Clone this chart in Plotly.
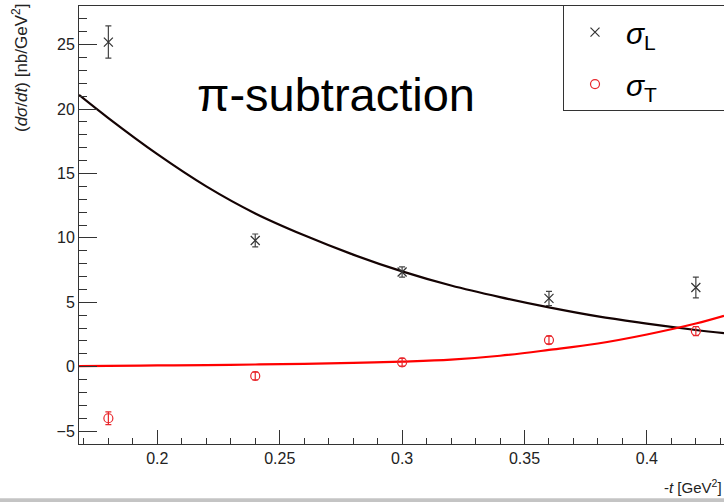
import plotly.graph_objects as go

# ---- data ----
t_points = [0.18, 0.24, 0.30, 0.36, 0.42]
sigL = [25.2, 9.8, 7.35, 5.3, 6.15]
sigL_err = [1.25, 0.5, 0.4, 0.55, 0.8]
sigT = [-4.0, -0.72, 0.34, 2.07, 2.77]
sigT_err = [0.5, 0.3, 0.3, 0.3, 0.35]

fit_t = [0.168, 0.18, 0.20, 0.22, 0.24, 0.26, 0.28, 0.30, 0.32, 0.34, 0.36, 0.38, 0.40, 0.42, 0.4315]
sigL_fit = [21.1, 19.3, 16.5, 14.0, 11.9, 10.2, 8.7, 7.4, 6.3, 5.4, 4.6, 3.9, 3.35, 2.85, 2.6]
sigT_fit = [0.05, 0.07, 0.1, 0.13, 0.17, 0.22, 0.3, 0.4, 0.55, 0.85, 1.3, 1.8, 2.5, 3.35, 3.95]

x_ticks = [0.2, 0.25, 0.3, 0.35, 0.4]
x_ticklabels = ["0.2", "0.25", "0.3", "0.35", "0.4"]
y_ticks = [-5, 0, 5, 10, 15, 20, 25]
y_ticklabels = ["\u22125", "0", "5", "10", "15", "20", "25"]

FONT = "Liberation Sans, Arial, Helvetica, sans-serif"
AXC = "#333333"
PAD = "&nbsp;" * 10

fig = go.Figure()

fig.add_trace(go.Scatter(
    x=fit_t, y=sigL_fit, mode="lines", line=dict(color="#140303", width=2.2, shape="spline"),
    showlegend=False, hoverinfo="skip"))
fig.add_trace(go.Scatter(
    x=fit_t, y=sigT_fit, mode="lines", line=dict(color="#ff0000", width=2.2, shape="spline"),
    showlegend=False, hoverinfo="skip"))

fig.add_trace(go.Scatter(
    x=t_points, y=sigL, mode="markers", name="<i>σ</i><sub>L</sub>" + PAD,
    marker=dict(symbol="x-thin-open", size=9, line=dict(color="#333333", width=1.2), color="#333333"),
    error_y=dict(type="data", array=sigL_err, width=3, thickness=1.2, color="#444444"),
    legendgroup="L"))
fig.add_trace(go.Scatter(
    x=t_points, y=sigT, mode="markers", name="<i>σ</i><sub>T</sub>" + PAD,
    marker=dict(symbol="circle-open", size=9, line=dict(color="#e8262b", width=1.2), color="#e8262b"),
    error_y=dict(type="data", array=sigT_err, width=3, thickness=1.2, color="#e8262b"),
    legendgroup="T"))

fig.update_layout(
    width=724, height=502,
    margin=dict(l=79, r=0, t=6, b=58, autoexpand=False),
    paper_bgcolor="white", plot_bgcolor="white",
    font=dict(family=FONT, color="#222222", size=16),
    showlegend=True,
    legend=dict(x=0.7504, y=1.002, xanchor="left", yanchor="top",
                bordercolor="#333333", borderwidth=1, bgcolor="white",
                font=dict(size=30, family=FONT, color="black"),
                tracegroupgap=10, itemwidth=52,
                traceorder="grouped"),
    xaxis=dict(range=[0.168, 0.4315], showgrid=False, zeroline=False,
               showline=True, linecolor=AXC, linewidth=1, mirror=True,
               ticks="inside", ticklen=14, tickcolor=AXC, tickwidth=1,
               tickvals=x_ticks, ticktext=x_ticklabels,
               tickfont=dict(size=16, color="#222222"),
               minor=dict(ticks="inside", ticklen=6, dtick=0.01, tick0=0.0, tickcolor=AXC, showgrid=False)),
    yaxis=dict(range=[-6, 28], showgrid=False, zeroline=False,
               showline=True, linecolor=AXC, linewidth=1,
               ticks="inside", ticklen=18, tickcolor=AXC, tickwidth=1,
               tickvals=y_ticks, ticktext=y_ticklabels,
               tickfont=dict(size=16, color="#222222"),
               minor=dict(ticks="inside", ticklen=8, dtick=1, tick0=0, tickcolor=AXC, showgrid=False)),
)

fig.add_annotation(text="\u03c0-subtraction", xref="paper", yref="paper",
                   x=0.399, y=0.797, xanchor="center", yanchor="middle",
                   showarrow=False, font=dict(size=47, family=FONT, color="black"))
fig.add_annotation(text="(<i>dσ</i>/<i>dt</i>) [nb/GeV<sup>2</sup>]", xref="paper", yref="paper",
                   x=-0.0915, y=1.009, xanchor="center", yanchor="top", textangle=-90,
                   showarrow=False, font=dict(size=17, family=FONT, color="#222222"))
fig.add_annotation(text="-<i>t</i> [GeV<sup>2</sup>]", xref="paper", yref="paper",
                   x=1.0, y=-0.098, xanchor="right", yanchor="middle",
                   showarrow=False, font=dict(size=15, family=FONT, color="#222222"))

# light grey strip at the very bottom of the picture
fig.add_shape(type="rect", xref="paper", yref="paper",
              x0=-0.13, x1=1.0, y0=-0.1326, y1=-0.1240,
              line=dict(width=0), fillcolor="#c4c4c4", layer="below")

fig.write_html("out.html")
